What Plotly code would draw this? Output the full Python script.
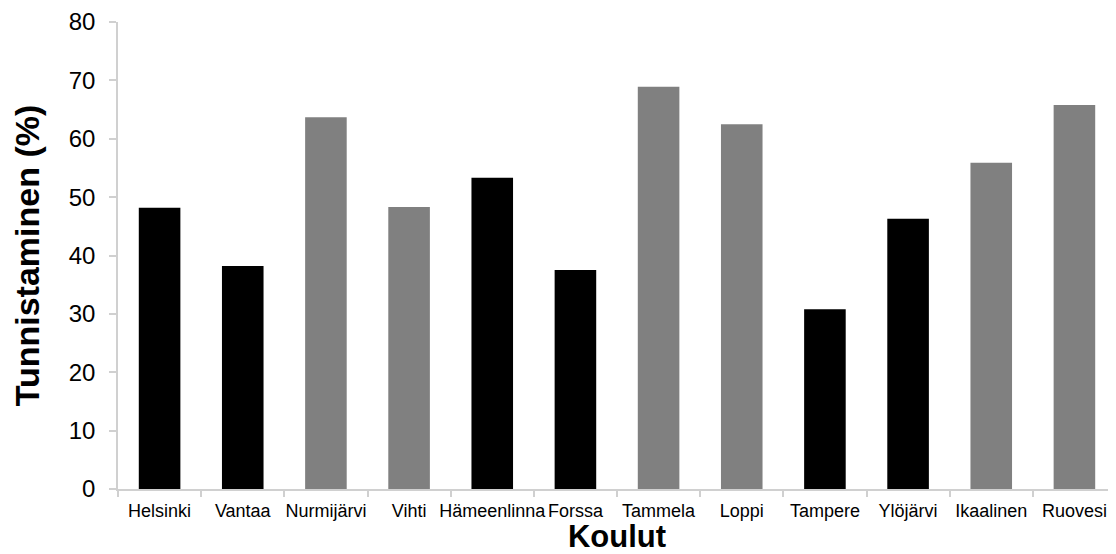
import plotly.graph_objects as go

koulut = ["Helsinki", "Vantaa", "Nurmijärvi", "Vihti", "Hämeenlinna", "Forssa",
          "Tammela", "Loppi", "Tampere", "Ylöjärvi", "Ikaalinen", "Ruovesi"]
tunnistaminen = [48.2, 38.2, 63.7, 48.3, 53.3, 37.5, 68.9, 62.5, 30.8, 46.3, 55.9, 65.8]
ryhma = ["kaupunki", "kaupunki", "maaseutu", "maaseutu", "kaupunki", "kaupunki",
         "maaseutu", "maaseutu", "kaupunki", "kaupunki", "maaseutu", "maaseutu"]
y_ticks = [0, 10, 20, 30, 40, 50, 60, 70, 80]

varit = {"kaupunki": "#000000", "maaseutu": "#808080"}
colors = [varit[g] for g in ryhma]

FONT = "Liberation Sans, Arial, sans-serif"

fig = go.Figure(go.Bar(
    x=koulut, y=tunnistaminen,
    marker=dict(color=colors, line=dict(width=0)),
    width=0.5,
))

fig.update_layout(
    width=1108, height=546,
    margin=dict(l=110, r=0, t=14, b=65, autoexpand=False),
    plot_bgcolor="white", paper_bgcolor="white",
    showlegend=False,
    font=dict(family=FONT, color="#000000"),
    xaxis=dict(
        title=dict(text="<b>Koulut</b>", font=dict(size=31, family=FONT), standoff=9),
        tickfont=dict(size=18, family=FONT),
        tickangle=0,
        automargin=True,
        showline=True, linecolor="#d0d0d0", linewidth=1.5,
        ticks="outside", ticklen=6, tickcolor="#d0d0d0", tickwidth=1.5,
        tickson="boundaries",
        showgrid=False,
        ticklabelstandoff=5,
    ),
    yaxis=dict(
        title=dict(text="<b>Tunnistaminen (%)</b>", font=dict(size=34, family=FONT), standoff=22),
        range=[0, 80], tickvals=y_ticks,
        tickfont=dict(size=24, family=FONT),
        automargin=True,
        showline=True, linecolor="#d0d0d0", linewidth=1.5,
        ticks="outside", ticklen=7, tickcolor="#d0d0d0", tickwidth=1.5,
        showgrid=False, zeroline=False,
        ticklabelstandoff=9,
    ),
)

fig.write_html("out.html")
